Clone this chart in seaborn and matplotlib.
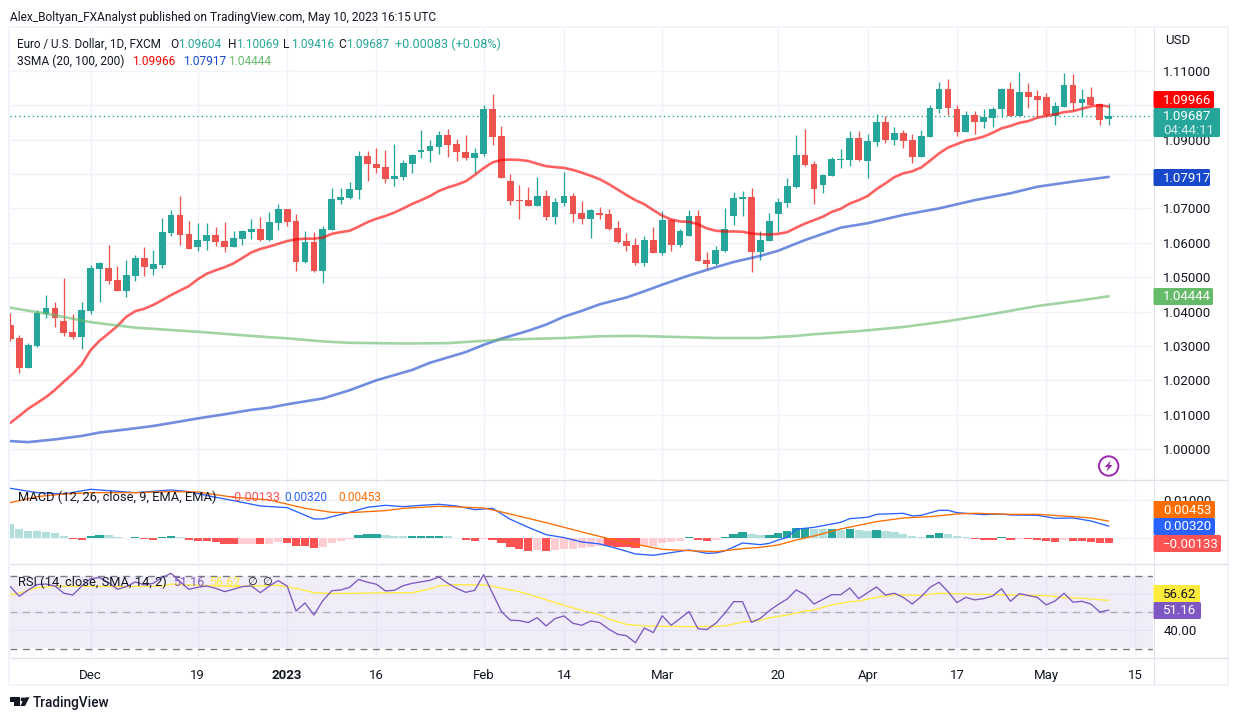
import matplotlib
matplotlib.use("Agg")
import matplotlib.pyplot as plt
from matplotlib.patches import FancyBboxPatch, Circle, Rectangle, Polygon
import numpy as np
import seaborn as sns

sns.set_theme(style="white")
plt.rcParams['font.family'] = ['Roboto', 'DejaVu Sans']

W, H = 1238, 720

opens = [1.0361,1.0323,1.0236,1.0300,1.0393,1.0410,1.0372,1.0340,1.0326,1.0401,
 1.0524,1.0527,1.0492,1.0460,1.0503,1.0556,1.0524,1.0535,1.0628,1.0681,
 1.0626,1.0588,1.0605,1.0623,1.0605,1.0588,1.0611,1.0631,1.0640,1.0608,
 1.0658,1.0698,1.0663,1.0544,1.0602,1.0518,1.0637,1.0724,1.0730,1.0754,
 1.0853,1.0829,1.0821,1.0786,1.0791,1.0829,1.0864,1.0867,1.0879,1.0914,
 1.0887,1.0864,1.0847,1.0858,1.0989,1.0911,1.0780,1.0724,1.0724,1.0707,
 1.0736,1.0675,1.0716,1.0736,1.0687,1.0669,1.0687,1.0684,1.0643,1.0605,
 1.0594,1.0541,1.0608,1.0570,1.0666,1.0594,1.0620,1.0678,1.0550,1.0538,
 1.0576,1.0678,1.0727,1.0733,1.0573,1.0605,1.0684,1.0716,1.0762,1.0855,
 1.0829,1.0768,1.0794,1.0841,1.0841,1.0905,1.0838,1.0893,1.0952,1.0899,
 1.0919,1.0899,1.0850,1.0908,1.0989,1.1048,1.0989,1.0922,1.0972,1.0952,
 1.0963,1.0989,1.1048,1.0969,1.1039,1.1027,1.1024,1.0969,1.0995,1.1059,
 1.1007,1.1024,1.1004,1.09604]
highs = [1.0395,1.0332,1.0308,1.0404,1.0448,1.0428,1.0497,1.0393,1.0428,1.0535,
 1.0544,1.0594,1.0532,1.0550,1.0565,1.0588,1.0579,1.0672,1.0695,1.0736,
 1.0663,1.0658,1.0658,1.0646,1.0661,1.0634,1.0637,1.0669,1.0675,1.0690,
 1.0713,1.0698,1.0684,1.0634,1.0631,1.0649,1.0759,1.0759,1.0777,1.0867,
 1.0867,1.0876,1.0870,1.0887,1.0841,1.0858,1.0928,1.0899,1.0925,1.0931,
 1.0902,1.0914,1.0876,1.1001,1.1033,1.0940,1.0800,1.0768,1.0762,1.0791,
 1.0754,1.0730,1.0806,1.0745,1.0722,1.0698,1.0704,1.0698,1.0663,1.0628,
 1.0614,1.0620,1.0646,1.0693,1.0669,1.0640,1.0695,1.0695,1.0573,1.0591,
 1.0701,1.0748,1.0751,1.0759,1.0634,1.0687,1.0730,1.0789,1.0914,1.0931,
 1.0838,1.0800,1.0850,1.0873,1.0925,1.0925,1.0917,1.0975,1.0969,1.0937,
 1.0928,1.0917,1.0928,1.1001,1.1068,1.1077,1.1001,1.0983,1.0983,1.0989,
 1.0995,1.1050,1.1068,1.1097,1.1065,1.1045,1.1036,1.1010,1.1094,1.1091,
 1.1048,1.1053,1.1007,1.10069]
lows = [1.0315,1.0221,1.0236,1.0297,1.0381,1.0355,1.0329,1.0320,1.0291,1.0393,
 1.0428,1.0480,1.0460,1.0442,1.0489,1.0503,1.0506,1.0527,1.0620,1.0594,
 1.0582,1.0576,1.0579,1.0591,1.0573,1.0588,1.0594,1.0611,1.0605,1.0605,
 1.0637,1.0649,1.0518,1.0541,1.0515,1.0483,1.0637,1.0713,1.0727,1.0727,
 1.0780,1.0803,1.0774,1.0765,1.0783,1.0803,1.0847,1.0835,1.0858,1.0850,
 1.0838,1.0841,1.0803,1.0853,1.0885,1.0789,1.0710,1.0669,1.0707,1.0707,
 1.0666,1.0655,1.0707,1.0661,1.0655,1.0614,1.0669,1.0637,1.0599,1.0576,
 1.0535,1.0532,1.0570,1.0565,1.0576,1.0588,1.0620,1.0547,1.0524,1.0535,
 1.0573,1.0652,1.0678,1.0515,1.0550,1.0605,1.0631,1.0704,1.0759,1.0823,
 1.0713,1.0745,1.0794,1.0818,1.0823,1.0838,1.0789,1.0882,1.0890,1.0885,
 1.0876,1.0832,1.0850,1.0908,1.0978,1.0972,1.0911,1.0922,1.0917,1.0934,
 1.0937,1.0966,1.0969,1.0969,1.0992,1.0966,1.0969,1.0943,1.0995,1.0986,
 1.0966,1.1001,1.0943,1.09416]
closes = [1.0320,1.0236,1.0303,1.0396,1.0410,1.0381,1.0337,1.0326,1.0404,1.0527,
 1.0541,1.0489,1.0460,1.0506,1.0556,1.0530,1.0538,1.0631,1.0681,1.0623,
 1.0582,1.0608,1.0623,1.0602,1.0588,1.0614,1.0634,1.0640,1.0608,1.0661,
 1.0698,1.0661,1.0544,1.0602,1.0518,1.0640,1.0727,1.0733,1.0756,1.0853,
 1.0829,1.0818,1.0786,1.0794,1.0832,1.0855,1.0870,1.0882,1.0914,1.0885,
 1.0864,1.0847,1.0861,1.0989,1.0908,1.0789,1.0722,1.0722,1.0707,1.0736,
 1.0675,1.0719,1.0736,1.0684,1.0669,1.0695,1.0681,1.0640,1.0602,1.0591,
 1.0541,1.0608,1.0570,1.0666,1.0594,1.0634,1.0678,1.0547,1.0538,1.0579,
 1.0640,1.0730,1.0733,1.0573,1.0608,1.0663,1.0719,1.0765,1.0855,1.0826,
 1.0756,1.0797,1.0844,1.0844,1.0905,1.0841,1.0896,1.0952,1.0899,1.0919,
 1.0896,1.0850,1.0911,1.0992,1.1048,1.0992,1.0922,1.0972,1.0952,1.0966,
 1.0989,1.1048,1.0969,1.1039,1.1024,1.1015,1.0972,1.0998,1.1059,1.1007,
 1.1018,1.1001,1.0957,1.09687]

sma20 = [1.0076,1.0096,1.0117,1.0134,1.0151,1.0172,1.0196,1.0219,1.0246,1.0288,
 1.0315,1.0336,1.0358,1.0385,1.0401,1.0408,1.0419,1.0433,1.0448,1.0461,
 1.0474,1.0494,1.0510,1.0520,1.0529,1.0540,1.0556,1.0572,1.0582,1.0589,
 1.0597,1.0605,1.0610,1.0612,1.0612,1.0615,1.0626,1.0631,1.0635,1.0647,
 1.0660,1.0670,1.0678,1.0688,1.0700,1.0713,1.0724,1.0736,1.0751,1.0761,
 1.0769,1.0779,1.0797,1.0817,1.0834,1.0841,1.0842,1.0841,1.0838,1.0830,
 1.0823,1.0820,1.0818,1.0812,1.0804,1.0795,1.0785,1.0771,1.0755,1.0739,
 1.0724,1.0712,1.0695,1.0679,1.0668,1.0662,1.0661,1.0654,1.0642,1.0635,
 1.0633,1.0633,1.0632,1.0627,1.0625,1.0624,1.0626,1.0631,1.0644,1.0656,
 1.0666,1.0676,1.0690,1.0699,1.0714,1.0724,1.0736,1.0756,1.0773,1.0791,
 1.0802,1.0808,1.0819,1.0839,1.0860,1.0877,1.0887,1.0897,1.0902,1.0909,
 1.0920,1.0933,1.0940,1.0949,1.0954,1.0964,1.0969,1.0974,1.0980,1.0983,
 1.0990,1.0997,1.1000,1.09966]

sma100_bars = [0,2,5,8,10,13,16,19,21,24,27,29,31,35,38,41,45,47,51,53,55,58,60,62,64,66,69,71,73,76,79,81,84,86,89,91,93,96,100,104,108,112,115,119,123]
sma100 = [1.0023,1.0020,1.0028,1.0038,1.0048,1.0057,1.0067,1.0080,1.0089,1.0101,1.0114,1.0120,1.0130,1.0147,1.0171,1.0200,1.0230,
 1.0251,1.0282,1.0303,1.0321,1.0344,1.0362,1.0385,1.0402,1.0421,1.0441,1.0459,1.0478,1.0505,1.0529,1.0544,1.0562,1.0577,
 1.0608,1.0626,1.0644,1.0657,1.0681,1.0700,1.0724,1.0744,1.0763,1.0778,1.07917]
sma200_bars = [0,4,9,14,21,28,31,35,38,44,49,55,62,66,70,73,79,84,88,90,95,100,105,110,115,120,123]
sma200 = [1.0411,1.0394,1.0369,1.0353,1.0341,1.0327,1.0322,1.0313,1.0309,1.0307,1.0308,1.0318,1.0323,1.0328,1.0329,1.0327,
 1.0323,1.0323,1.0329,1.0334,1.0343,1.0355,1.0372,1.0393,1.0416,1.0433,1.04444]

hist = [.00377,.00246,.00193,.00193,.00167,.00140,.00061,-.00026,-.00044,.00061,
 .00088,.00088,.00035,.00009,.00035,-.00026,-.00044,.00035,.00061,.00035,
 -.00044,-.00070,-.00070,-.00096,-.00149,-.00149,-.00149,-.00149,-.00149,-.00149,
 -.00096,-.00123,-.00202,-.00202,-.00254,-.00228,-.00123,-.00070,-.00018,.00088,
 .00114,.00114,.00088,.00061,.00061,.00061,.00061,.00061,.00061,.00061,
 .00018,-.00044,-.00070,-.00018,-.00044,-.00123,-.00228,-.00281,-.00333,-.00307,
 -.00333,-.00307,-.00281,-.00281,-.00254,-.00228,-.00202,-.00202,-.00228,-.00228,
 -.00254,-.00202,-.00202,-.00123,-.00096,-.00070,.00035,-.00044,-.00070,-.00044,
 .00035,.00114,.00167,.00114,.00088,.00088,.00140,.00193,.00272,.00272,
 .00246,.00246,.00246,.00219,.00246,.00219,.00193,.00219,.00193,.00167,
 .00114,.00061,.00035,.00088,.00140,.00114,.00061,.00035,-.00026,-.00044,
 -.00044,.00035,-.00044,-.00018,-.00018,-.00044,-.00070,-.00096,-.00044,-.00070,
 -.00070,-.00096,-.00123,-.00133]
hist_state = list("tttttttRRT" "TtttTRRTTt" "RRRRRRrrRr" "rRRRRrrrrT" "TTtttTTTTt"
                  "tRRrRRRRRr" "RrrrrrrRRR" "RrrrrrTRRr" "TTTttTTTTT" "ttTtTttTtt"
                  "tttTTtttRR" "RTRrRRRRrR" "RRRR")

macd_bars = [0,3,6,9,12,14,18,20,23,25,28,31,34,35,38,40,42,44,46,48,50,52,54,56,58,60,62,64,66,68,70,72,74,76,78,79,
 80,82,84,85,86,87,88,90,93,94,96,97,100,101,102,104,105,106,109,111,112,115,117,119,121,123]
macd = [.01316,.01201,.01166,.01289,.01237,.01201,.01272,.01228,.01079,.00991,.00851,.00807,.00509,.00509,.00684,.00816,
 .00868,.00833,.00868,.00895,.00851,.00754,.00789,.00500,.00289,.00096,.00018,-.00096,-.00149,-.00272,-.00412,-.00447,
 -.00377,-.00307,-.00395,-.00386,-.00333,-.00123,-.00167,-.00132,-.00044,.00026,.00237,.00289,.00421,.00517,.00553,.00631,
 .00658,.00588,.00605,.00737,.00737,.00675,.00623,.00640,.00614,.00605,.00526,.00535,.00456,.00320]
signal_bars = [0,3,6,9,14,18,21,25,29,33,36,38,42,44,46,48,51,53,55,60,64,67,70,73,76,79,82,84,86,88,90,93,97,100,103,106,108,112,115,119,121,123]
signal = [.00938,.01096,.01166,.01201,.01201,.01228,.01219,.01079,.01009,.00789,.00684,.00675,.00728,.00789,.00816,.00842,
 .00816,.00798,.00693,.00412,.00167,-.00009,-.00158,-.00289,-.00324,-.00351,-.00272,-.00237,-.00175,-.00044,.00061,.00246,
 .00438,.00535,.00570,.00640,.00658,.00631,.00631,.00570,.00535,.00453]

rsi = [64.3,58.9,62.4,65.4,65.7,64.6,60.6,59.6,64.6,68.7,69.3,66.5,62.8,64.3,66.9,65.2,66.1,69.3,71.7,67.0,
 62.8,63.9,64.6,63.3,61.5,62.8,64.3,64.6,60.9,64.6,67.6,64.6,50.7,55.2,48.5,56.5,62.0,62.4,63.9,68.3,
 66.7,65.6,61.9,62.2,64.8,66.1,66.9,67.8,69.6,66.1,63.3,61.1,62.2,70.9,60.6,50.4,45.6,45.4,44.3,47.0,
 42.4,46.5,48.0,43.9,42.8,45.2,44.3,40.7,37.8,37.0,33.1,41.3,38.7,48.1,42.8,46.5,50.4,40.9,40.4,43.9,
 49.4,55.9,55.9,44.4,46.7,50.9,54.4,57.4,62.4,59.8,54.6,57.2,59.8,59.8,63.5,57.6,60.9,64.1,59.6,60.6,
 58.3,54.6,58.7,63.9,66.7,61.5,55.4,58.3,56.9,57.6,59.1,63.1,56.1,60.4,59.3,58.3,54.1,56.3,60.6,55.6,
 56.1,54.6,50.2,51.16]
rsi_ma_bars = [0,1,3,5,9,13,17,18,21,25,30,32,34,36,40,44,45,47,48,50,53,54,57,59,62,64,66,67,69,71,73,77,80,82,84,85,87,89,90,92,94,95,97,99,102,104,107,111,116,118,120,123]
rsi_ma = [59.8,60.6,63.7,64.6,64.4,64.3,64.6,65.7,65.0,64.3,65.0,63.3,60.9,60.4,60.7,60.9,60.9,63.0,64.6,65.4,65.2,64.4,61.5,58.5,
 53.9,51.1,48.5,46.3,43.3,42.4,42.2,42.0,42.4,44.6,45.6,47.0,48.5,50.7,51.3,54.1,55.9,56.3,58.3,59.8,59.4,60.6,60.2,59.8,59.3,58.1,57.8,56.62]

bars = np.arange(len(closes))
assert len(opens) == len(highs) == len(lows) == len(closes) == len(sma20) == len(hist) == len(rsi) == len(hist_state) == 124
assert len(sma100_bars) == len(sma100) and len(sma200_bars) == len(sma200)
assert len(macd_bars) == len(macd) and len(signal_bars) == len(signal) and len(rsi_ma_bars) == len(rsi_ma)

tick_bars = [9, 21, 31, 41, 53, 62, 73, 86, 96, 106, 116, 126]
tick_labels = ["Dec", "19", "2023", "16", "Feb", "14", "Mar", "20", "Apr", "17", "May", "15"]
price_ticks = [1.00, 1.01, 1.02, 1.03, 1.04, 1.05, 1.06, 1.07, 1.08, 1.09, 1.10, 1.11]
price_labels = ["1.00000", "1.01000", "1.02000", "1.03000", "1.04000", "1.05000", "1.06000", "1.07000", "", "1.09000", "", "1.11000"]

UP, DOWN = "#26a69a", "#ef5350"
GRID = "#f0f3fa"
SEP = "#e0e3eb"
INK = "#131722"
FS = 8.55
FA = 9.5

fig = plt.figure(figsize=(W / 100, H / 100), dpi=100, facecolor="white")

def pane(top, bottom, left=10, right=1153):
    ax = fig.add_axes([left / W, 1 - bottom / H, (right - left) / W, (bottom - top) / H])
    ax.set_facecolor("white")
    for s in ax.spines.values():
        s.set_visible(False)
    ax.set_xlim(-0.034, 127.96)
    ax.set_xticks(tick_bars)
    ax.yaxis.tick_right()
    ax.grid(True, color=GRID, lw=1.0)
    ax.set_axisbelow(True)
    ax.tick_params(axis="both", length=0, labelsize=FA, colors=INK)
    ax.tick_params(axis="y", pad=7.5)
    ax.tick_params(axis="x", labelbottom=False)
    return ax

# price pane
ax = pane(28, 479)
ax.set_ylim(1.10 - (479 - 105.3) / 3437, 1.10 + (105.3 - 28) / 3437)
ax.set_yticks(price_ticks)
ax.set_yticklabels(price_labels, va="center_baseline")
colors = [UP if c >= o else DOWN for o, c in zip(opens, closes)]
ax.vlines(bars, lows, highs, colors=colors, lw=0.95, zorder=3)
ax.bar(bars, np.abs(np.array(closes) - np.array(opens)), bottom=np.minimum(opens, closes),
       width=0.76, color=colors, lw=0, zorder=3)
ax.axhline(closes[-1], color=UP, lw=1.0, ls=(0, (1, 2.2)), zorder=2)
sns.lineplot(x=bars, y=sma20, ax=ax, color="#ff0000", alpha=0.62, lw=1.9, errorbar=None, zorder=4)
sns.lineplot(x=sma100_bars, y=sma100, ax=ax, color="#1848cc", alpha=0.62, lw=1.9, errorbar=None, zorder=4)
sns.lineplot(x=sma200_bars, y=sma200, ax=ax, color="#66bb6a", alpha=0.62, lw=1.9, errorbar=None, zorder=4)
ax.set_xlabel(""); ax.set_ylabel("")

# MACD pane
ax2 = pane(480, 563)
ax2.set_ylim(-(563 - 538.3) / 3800, (538.3 - 480) / 3800)
ax2.set_yticks([0, 0.01])
ax2.set_yticklabels(["", "0.01000"], va="center_baseline")
hist_palette = {"T": "#26a69a", "t": "#b2dfdb", "R": "#ff5252", "r": "#ffcdd2"}
sns.barplot(x=bars, y=hist, hue=hist_state, palette=hist_palette, native_scale=True, dodge=False,
            width=0.93, legend=False, ax=ax2, zorder=2, linewidth=0, saturation=1)
sns.lineplot(x=macd_bars, y=macd, ax=ax2, color="#2962ff", lw=0.95, errorbar=None, zorder=3)
sns.lineplot(x=signal_bars, y=signal, ax=ax2, color="#ff6d00", lw=0.95, errorbar=None, zorder=3)
ax2.set_xlim(-0.034, 127.96)
ax2.set_xticks(tick_bars)
ax2.set_xlabel(""); ax2.set_ylabel("")
ax2.tick_params(axis="x", labelbottom=False)

# RSI pane
ax3 = pane(564, 657)
ax3.set_ylim(50 - (657 - 612.3) / 1.8, 50 + (612.3 - 564) / 1.8)
ax3.set_yticks([40, 50, 60])
ax3.set_yticklabels(["40.00", "", ""], va="center_baseline")
ax3.axhspan(30, 70, color="#7e57c2", alpha=0.10, lw=0, zorder=1)
ax3.axhline(70, color="#787b86", lw=1.0, ls=(0, (5, 4)), zorder=2)
ax3.axhline(50, color="#787b86", lw=1.0, ls=(0, (5, 4)), alpha=0.5, zorder=2)
ax3.axhline(29.5, color="#787b86", lw=1.0, ls=(0, (5, 4)), zorder=2)
sns.lineplot(x=rsi_ma_bars, y=rsi_ma, ax=ax3, color="#ffeb3b", lw=0.95, errorbar=None, zorder=3)
sns.lineplot(x=bars, y=rsi, ax=ax3, color="#7e57c2", lw=0.95, errorbar=None, zorder=4)
ax3.set_xlim(-0.034, 127.96)
ax3.set_xticks(tick_bars)
ax3.set_xticklabels(tick_labels)
ax3.set_xlabel(""); ax3.set_ylabel("")
ax3.tick_params(axis="x", labelbottom=True, pad=8.5)
for lab in ax3.get_xticklabels():
    if lab.get_text() == "2023":
        lab.set_fontweight("bold")

# overlay in pixel coordinates for frame, legends, price tags
ov = fig.add_axes([0, 0, 1, 1], zorder=10)
ov.set_xlim(0, W); ov.set_ylim(H, 0); ov.axis("off"); ov.patch.set_alpha(0)

for (x0, y0, x1, y1, c, lw) in [(9, 27, 1228, 27, GRID, 1.5), (9, 27, 9, 685, GRID, 2), (1228, 27, 1228, 685, GRID, 2),
                                (9, 685, 1228, 685, GRID, 1.5), (1153.5, 27, 1153.5, 685, SEP, 1),
                                (10, 479.5, 1228, 479.5, SEP, 1.4), (10, 563.5, 1228, 563.5, SEP, 1.4),
                                (10, 657.5, 1228, 657.5, SEP, 1.4)]:
    ov.plot([x0, x1], [y0, y1], color=c, lw=lw * 0.72, solid_capstyle="butt")

def T(x, y, s, c=INK, **kw):
    kw.setdefault("fontsize", FS)
    ov.text(x, y, s, color=c, va="center", ha=kw.pop("ha", "left"), **kw)

T(10, 17.5, "Alex_Boltyan_FXAnalyst published on TradingView.com, May 10, 2023 16:15 UTC", fontsize=8.6)
T(17, 44.5, "Euro / U.S. Dollar, 1D, FXCM", fontsize=8.35)
for x, k, v in [(170, "O", "1.09604"), (228, "H", "1.10069"), (283, "L", "1.09416"), (338, "C", "1.09687")]:
    T(x, 44.5, k)
    T(x + 8, 44.5, v, UP)
T(395, 44.5, "+0.00083 (+0.08%)", UP, fontsize=9)
T(17, 61.5, "3SMA (20, 100, 200)", fontsize=8.65)
T(132, 61.5, "1.09966", "#ff0000")
T(183, 61.5, "1.07917", "#1848cc")
T(228, 61.5, "1.04444", "#66bb6a")
T(1165, 40.5, "USD", fontsize=FA)
T(18, 497.5, "MACD (12, 26, close, 9, EMA, EMA)", fontsize=9.3)
T(228, 497.5, "\u22120.00133", "#ff5252", fontsize=9)
T(284, 497.5, "0.00320", "#2962ff")
T(338, 497.5, "0.00453", "#ff6d00")
T(18, 582, "RSI (14, close, SMA, 14, 2)", fontsize=9.25)
T(173, 582, "51.16", "#7e57c2", fontsize=9)
T(209, 582, "56.62", "#ffeb3b", fontsize=9)
T(252, 582, "\u2205", fontfamily="DejaVu Sans", fontsize=8, ha="center")
T(267, 582, "\u2205", fontfamily="DejaVu Sans", fontsize=8, ha="center")

def tag(y0, y1, x1, fc):
    ov.add_patch(FancyBboxPatch((1153.5, y0), x1 - 1153.5, y1 - y0, boxstyle="round,pad=0,rounding_size=1.5",
                                fc=fc, ec="none", zorder=5))

for y0, y1, x1, fc, s, tc in [(91, 108, 1214, "#ff0000", "1.09966", "white"),
                              (169, 186, 1210, "#1848cc", "1.07917", "white"),
                              (288, 305, 1213, "#66bb6a", "1.04444", "white"),
                              (501, 518, 1215, "#ff6d00", "0.00453", "white"),
                              (518, 535, 1215, "#2962ff", "0.00320", "white"),
                              (535, 552, 1221, "#ff5252", "\u22120.00133", "white"),
                              (585, 602, 1200, "#ffeb3b", "56.62", INK),
                              (602, 619, 1201, "#7e57c2", "51.16", "white")]:
    tag(y0, y1, x1, fc)
    T(1163, (y0 + y1) / 2 + 0.5, s, tc, zorder=6, fontsize=FA)
tag(108, 137, 1220, "#26a69a")
T(1163, 116.5, "1.09687", "white", zorder=6, fontsize=FA)
T(1163, 130, "04:44:11", "#d4eeeb", zorder=6, fontsize=FA)

# replay icon
ov.add_patch(Circle((1108.7, 466), 9.7, fc="white", ec="#9c27b0", lw=1.4, zorder=5))
ov.add_patch(Polygon([[1110.8, 460.5], [1104.8, 467], [1108, 467], [1106.5, 471.5], [1112.6, 465], [1109.3, 465]],
                     fc="#9c27b0", ec="none", zorder=6))

# footer
ov.add_patch(Rectangle((10, 697.3), 10, 4.2, fc=INK, ec="none"))
ov.add_patch(Rectangle((14, 697.3), 6, 8.7, fc=INK, ec="none"))
ov.add_patch(Circle((22.7, 699.5), 2.1, fc=INK, ec="none"))
ov.add_patch(Polygon([[24.8, 697.3], [29.5, 697.3], [25, 706], [20.3, 706]], fc=INK, ec="none"))
T(33, 702.5, "TradingView", fontsize=9.8, fontweight="medium")

fig.savefig("out.png", dpi=100)
